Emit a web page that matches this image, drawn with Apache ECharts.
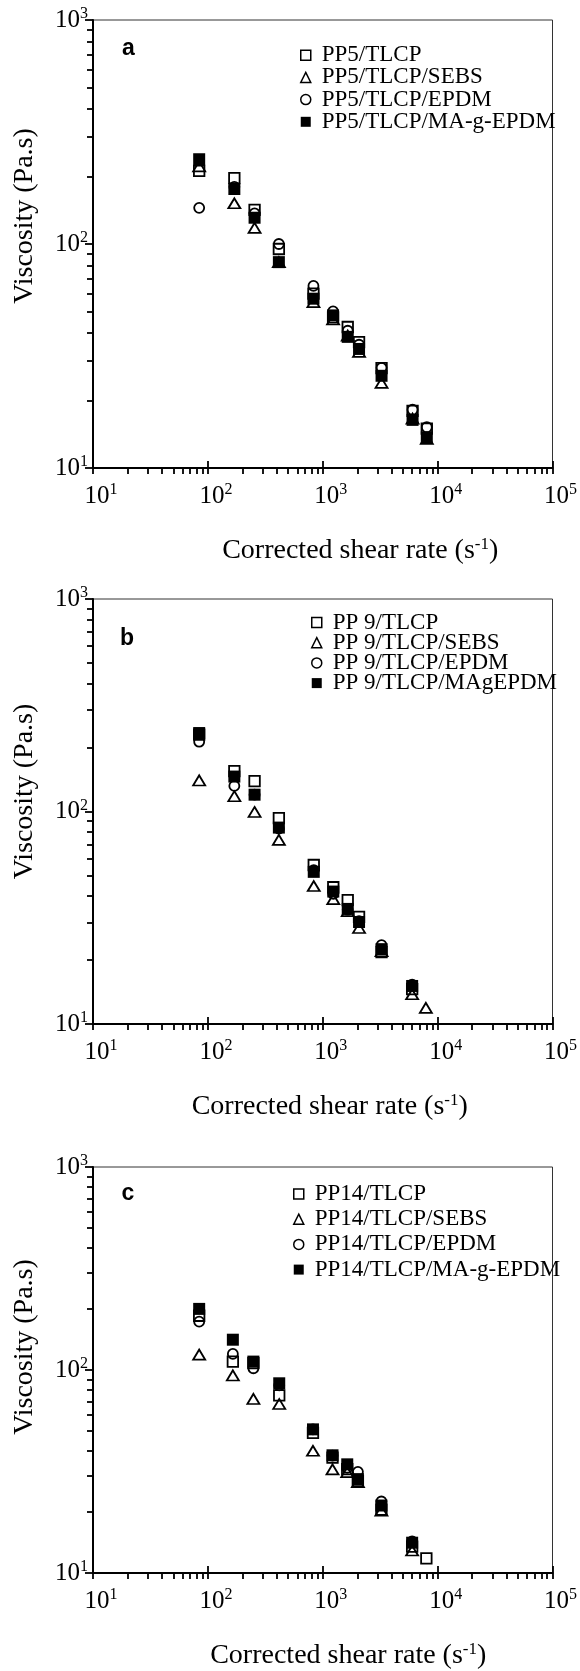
<!DOCTYPE html>
<html><head><meta charset="utf-8">
<script src="https://cdn.jsdelivr.net/npm/echarts@6/dist/echarts.min.js"></script>
<style>html,body{margin:0;padding:0;background:#fff}#c{width:580px;height:1671px}</style>
</head><body><div id="c"></div>
<script>
// ---------- data ----------
const xRange = [10, 100000];
const yRange = [10, 1000];
const minorFactors = [2, 3, 4, 5, 6, 7, 8, 9];
const xDecades = [10, 100, 1000, 10000];
const yDecades = [10, 100];

const panelLetters = ['a', 'b', 'c'];
const namesA = ['PP5/TLCP', 'PP5/TLCP/SEBS', 'PP5/TLCP/EPDM', 'PP5/TLCP/MA-g-EPDM'];
const namesB = ['PP 9/TLCP', 'PP 9/TLCP/SEBS', 'PP 9/TLCP/EPDM', 'PP 9/TLCP/MAgEPDM'];
const namesC = ['PP14/TLCP', 'PP14/TLCP/SEBS', 'PP14/TLCP/EPDM', 'PP14/TLCP/MA-g-EPDM'];

const shearA = [84, 170, 255, 415, 830, 1230, 1650, 2070, 3250, 6050, 8050];
const a_tlcp   = [212, 197, 142, 95, 60, 47, 42.6, 36.5, 27.9, 18, 15];
const a_sebs   = [222, 152, 118, 83, 55, 46, 39, 33, 24, 16.6, 13.5];
const a_epdm   = [145, 180, 137, 100, 65, 50, 41, 35.5, 28, 18.2, 15.2];
const a_maepdm = [239, 176, 131, 83, 57, 48, 38.5, 34, 25.8, 16.4, 13.7];

const shearB = [84, 170, 255, 415, 835, 1235, 1650, 2070, 3250, 6000, 7900];
const b_tlcp   = [230, 155, 139, 93, 56, 44, 38.3, 31.9, 21.8, 14.6];
const b_sebs   = [140, 118, 99.5, 73.5, 44.6, 38.7, 34, 28.3, 22, 13.8, 11.9];
const b_epdm   = [213, 132, 120, 83, 53, 41, 34.5, 30.5, 23.5, 15.3];
const b_maepdm = [234, 146, 120, 84, 52, 42, 34.8, 30.2, 22.5, 15.1];

const shearC = [84, 165, 249, 418, 822, 1216, 1634, 2023, 3240, 6000, 7980];
const c_tlcp   = [185, 110, 108, 75, 49, 37, 32.5, 28.4, 20.5, 13.5, 11.8];
const c_sebs   = [119, 94, 72, 68, 40, 32.4, 31.4, 28, 20.3, 12.9];
const c_epdm   = [173, 120, 102, 84, 51, 37.9, 33, 31.5, 22.5, 14.3];
const c_maepdm = [200, 141, 110, 86, 51, 38, 34.3, 29, 21.5, 14.1];

const xTitle = 'Corrected shear rate (s';
const xTitleSup = '-1';
const yTitle = 'Viscosity (Pa.s)';

// minor tick values of the log axes (2..9 in each decade)
const xMinorTicks = [];
xDecades.forEach(d => minorFactors.forEach(f => xMinorTicks.push(f * d)));
const yMinorTicks = [];
yDecades.forEach(d => minorFactors.forEach(f => yMinorTicks.push(f * d)));

// ---------- layout / style ----------
const SERIF = 'Liberation Serif';
const panels = [
  {letter: panelLetters[0], names: namesA, shear: shearA, ys: [a_tlcp, a_sebs, a_epdm, a_maepdm],
   grid: {left: 93, top: 20, width: 461, height: 448}, lg: {left: 300, top: 43.2, gap: -1.8},
   letterPos: [122, 49], xPad: 75, yPad: 56},
  {letter: panelLetters[1], names: namesB, shear: shearB, ys: [b_tlcp, b_sebs, b_epdm, b_maepdm],
   grid: {left: 93, top: 599, width: 470, height: 425}, lg: {left: 311, top: 610.5, gap: -3.8},
   letterPos: [120, 639], xPad: 14, yPad: 40},
  {letter: panelLetters[2], names: namesC, shear: shearC, ys: [c_tlcp, c_sebs, c_epdm, c_maepdm],
   grid: {left: 93, top: 1167, width: 470, height: 415}, lg: {left: 293, top: 1182, gap: 1.2},
   letterPos: [121.5, 1194], xPad: 51, yPad: 46}
];
const symbols = ['rect', 'triangle', 'circle', 'rect'];
const symSizes = [10.5, [12, 10], 10, 12];
const filled = [false, false, false, true];

const tickRich = {
  b: {fontFamily: SERIF, fontSize: 25, lineHeight: 28, color: '#000'},
  s: {fontFamily: SERIF, fontSize: 16, lineHeight: 16, verticalAlign: 'top', color: '#000'}
};
function expLabel(v) {
  const e = Math.round(Math.log10(v));
  return '{b|10}{s|' + e + '}';
}
const tickLine = {color: '#000', width: 1.8};

const grids = [], xAxes = [], yAxes = [], series = [], legends = [], graphics = [];
panels.forEach((p, gi) => {
  grids.push(Object.assign({show: true, borderColor: '#333', borderWidth: 1, backgroundColor: 'transparent'}, p.grid));
  // main x axis (index gi*3)
  xAxes.push({
    type: 'log', logBase: 10, gridIndex: gi, position: 'bottom', min: xRange[0], max: xRange[1],
    axisLine: {show: true, onZero: false, lineStyle: {color: '#000', width: 2}},
    axisTick: {show: true, inside: false, length: 6, lineStyle: tickLine},
    minorTick: {show: false}, splitLine: {show: false},
    axisLabel: {show: true, margin: 14, padding: [0, 0, 0, 16], formatter: expLabel, rich: tickRich},
    name: '{t|' + xTitle + '}{u|' + xTitleSup + '}{t|)}', nameLocation: 'middle', nameGap: 68,
    nameTextStyle: {padding: [0, 0, 0, p.xPad], rich: {
      t: {fontFamily: SERIF, fontSize: 28, lineHeight: 30, color: '#000'},
      u: {fontFamily: SERIF, fontSize: 17, lineHeight: 17, verticalAlign: 'top', color: '#000'}}}
  });
  // inner part of the major x ticks
  xAxes.push({
    type: 'log', logBase: 10, gridIndex: gi, position: 'bottom', min: xRange[0], max: xRange[1],
    axisLine: {show: false, onZero: false}, axisLabel: {show: false}, splitLine: {show: false},
    axisTick: {show: true, inside: true, length: 7, lineStyle: tickLine}
  });
  // minor x ticks
  xAxes.push({
    type: 'log', logBase: 10, gridIndex: gi, position: 'bottom', min: xRange[0], max: xRange[1],
    axisLine: {show: false, onZero: false}, axisLabel: {show: false}, splitLine: {show: false},
    axisTick: {show: true, inside: false, length: 6, customValues: xMinorTicks, lineStyle: tickLine}
  });
  // main y axis (index gi*2)
  yAxes.push({
    type: 'log', logBase: 10, gridIndex: gi, position: 'left', min: yRange[0], max: yRange[1],
    axisLine: {show: true, onZero: false, lineStyle: {color: '#000', width: 2}},
    axisTick: {show: true, inside: false, length: 8, lineStyle: tickLine},
    splitLine: {show: false},
    axisLabel: {show: true, margin: 5, formatter: expLabel, rich: tickRich},
    name: yTitle, nameLocation: 'middle', nameGap: 54,
    nameTextStyle: {fontFamily: SERIF, fontSize: 28, color: '#000', padding: [0, 0, 0, p.yPad]}
  });
  // minor y ticks
  yAxes.push({
    type: 'log', logBase: 10, gridIndex: gi, position: 'left', min: yRange[0], max: yRange[1],
    axisLine: {show: false, onZero: false}, axisLabel: {show: false}, splitLine: {show: false},
    axisTick: {show: true, inside: false, length: 6, customValues: yMinorTicks, lineStyle: tickLine}
  });
  p.names.forEach((nm, si) => {
    const ys = p.ys[si];
    series.push({
      type: 'scatter', name: nm, xAxisIndex: gi * 3, yAxisIndex: gi * 2,
      data: ys.map((v, i) => [p.shear[i], v]),
      symbol: symbols[si], symbolSize: symSizes[si], silent: true,
      itemStyle: filled[si] ? {color: '#000', borderWidth: 0, opacity: 1}
                            : {color: 'rgba(255,255,255,0)', borderColor: '#000', borderWidth: 1.8, opacity: 1},
      z: filled[si] ? 4 : 3
    });
  });
  legends.push({
    orient: 'vertical', left: p.lg.left, top: p.lg.top, itemGap: p.lg.gap, padding: 0,
    itemWidth: 10, itemHeight: 10, selectedMode: false,
    data: p.names.map((n, i) => ({name: n, icon: symbols[i]})),
    itemStyle: {borderWidth: 1.5},
    textStyle: {fontFamily: SERIF, fontSize: 23, color: '#000', lineHeight: 14, padding: [10, 0, 0, 6]}
  });
  graphics.push({
    type: 'text', x: p.letterPos[0], y: p.letterPos[1],
    style: {text: p.letter, fontFamily: 'Liberation Sans', fontWeight: 'bold', fontSize: 23,
            fill: '#000', verticalAlign: 'middle'}
  });
});

const chart = echarts.init(document.getElementById('c'), null, {renderer: 'canvas'});
chart.setOption({
  animation: false,
  backgroundColor: '#fff',
  grid: grids, xAxis: xAxes, yAxis: yAxes, series: series, legend: legends, graphic: graphics
});
</script>
</body></html>
